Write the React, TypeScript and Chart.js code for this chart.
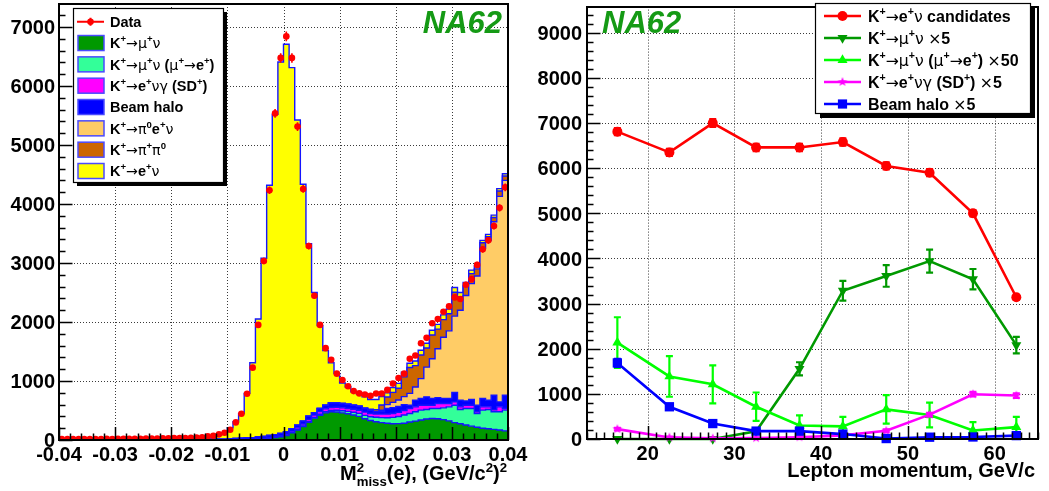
import React, { useEffect, useRef } from 'react';
import { Chart, registerables } from 'chart.js';

Chart.register(...registerables);

// ================= LEFT PANEL: M2miss(e) histogram =================
const BIN_LOW = -0.04;
const BIN_WIDTH = 0.001;
const N_BINS = 80;

const dataCounts = [
  14, 16, 15, 17, 16, 18, 17, 16, 19, 18,
  20, 19, 21, 20, 22, 23, 25, 26, 28, 29,
  31, 33, 35, 37, 40, 45, 62, 73, 96, 124,
  174, 298, 445, 785, 1226, 1951, 3035, 4233, 5536, 6476,
  6841, 6476, 5312, 4255, 3288, 2445, 1951, 1557, 1361, 1125,
  1018, 911, 829, 790, 770, 748, 787, 787, 849, 956,
  1051, 1125, 1377, 1433, 1641, 1731, 1978, 2052, 2175, 2265,
  2417, 2389, 2631, 2726, 2968, 3232, 3384, 3626, 3935, 4283,
];

const kMuNu = [
  0, 0, 0, 0, 0, 0, 0, 0, 0, 0,
  0, 0, 0, 0, 0, 0, 0, 0, 0, 0,
  0, 0, 0, 0, 0, 0, 0, 0, 0, 0,
  2, 3, 4, 6, 8, 12, 20, 30, 40, 55,
  75, 120, 170, 230, 300, 370, 420, 460, 478, 475,
  460, 445, 425, 400, 360, 330, 310, 295, 283, 275,
  278, 285, 305, 320, 340, 355, 365, 360, 345, 325,
  295, 275, 255, 235, 215, 200, 190, 180, 170, 155,
];

const kMuNuMuToE = [
  0, 0, 0, 0, 0, 0, 0, 0, 0, 0,
  0, 0, 0, 0, 0, 0, 0, 0, 0, 0,
  0, 0, 0, 0, 0, 0, 0, 0, 0, 0,
  0, 0, 0, 0, 0, 2, 2, 3, 3, 4,
  5, 6, 8, 10, 12, 14, 16, 18, 22, 28,
  35, 40, 45, 52, 58, 65, 75, 85, 95, 108,
  120, 140, 145, 158, 166, 162, 169, 174, 200, 237,
  295, 242, 279, 299, 235, 306, 327, 300, 308, 351,
];

const kE2GammaSD = [
  0, 0, 0, 0, 0, 0, 0, 0, 0, 0,
  0, 0, 0, 0, 0, 0, 0, 0, 0, 0,
  0, 0, 0, 0, 0, 0, 0, 0, 0, 0,
  2, 3, 4, 5, 6, 8, 10, 12, 13, 15,
  20, 24, 28, 30, 35, 38, 45, 50, 52, 52,
  50, 48, 50, 52, 55, 55, 55, 58, 62, 65,
  70, 75, 84, 84, 84, 73, 56, 84, 73, 56,
  56, 45, 56, 56, 28, 56, 45, 30, 84, 28,
];

const beamHalo = [
  6, 6, 6, 6, 6, 6, 6, 6, 6, 6,
  7, 7, 7, 7, 7, 7, 7, 7, 7, 7,
  9, 9, 9, 9, 9, 10, 11, 12, 14, 15,
  17, 19, 21, 24, 27, 28, 30, 32, 34, 36,
  38, 42, 46, 50, 55, 39, 53, 62, 77, 74,
  74, 74, 70, 69, 61, 56, 40, 45, 94, 100,
  100, 100, 56, 113, 113, 141, 113, 101, 85, 85,
  158, 113, 73, 96, 112, 141, 113, 249, 84, 225,
];

const kPi0ENu = [
  0, 0, 0, 0, 0, 0, 0, 0, 0, 0,
  0, 0, 0, 0, 0, 0, 0, 0, 0, 0,
  0, 0, 0, 0, 0, 0, 0, 0, 0, 0,
  0, 0, 0, 0, 0, 0, 0, 0, 0, 0,
  0, 0, 0, 0, 0, 0, 0, 0, 0, 0,
  0, 0, 0, 0, 0, 0, 5, 20, 66, 90,
  110, 135, 200, 224, 337, 505, 674, 827, 1039, 1147,
  1296, 1525, 1787, 1964, 2190, 2547, 2705, 2941, 3484, 3641,
];

const kPiPi0 = [
  0, 0, 0, 0, 0, 0, 0, 0, 0, 0,
  0, 0, 0, 0, 0, 0, 0, 0, 0, 0,
  0, 0, 0, 0, 0, 0, 0, 0, 0, 0,
  0, 0, 0, 0, 0, 0, 0, 0, 0, 0,
  0, 0, 0, 0, 0, 0, 0, 0, 0, 0,
  0, 0, 0, 0, 10, 15, 30, 90, 130, 170,
  200, 335, 440, 361, 400, 324, 403, 334, 298, 290,
  405, 230, 160, 170, 120, 94, 65, 71, 91, 74,
];

const kE2 = [
  8, 10, 9, 11, 10, 12, 11, 10, 13, 12,
  13, 12, 14, 13, 15, 16, 18, 19, 21, 22,
  22, 24, 26, 28, 31, 35, 44, 56, 74, 110,
  187, 284, 421, 755, 1269, 2002, 3019, 4240, 5430, 6298,
  6569, 6120, 5173, 4014, 2925, 2040, 1405, 928, 681, 496,
  347, 292, 225, 203, 187, 165, 171, 142, 70, 82,
  82, 80, 70, 80, 80, 80, 80, 80, 80, 80,
  80, 70, 60, 60, 50, 40, 40, 40, 40, 40,
];

const leftXTicks = [-0.04, -0.03, -0.02, -0.01, 0, 0.01, 0.02, 0.03, 0.04];
const leftXTickLabels = ['-0.04', '-0.03', '-0.02', '-0.01', '0', '0.01', '0.02', '0.03', '0.04'];
const leftYTicks = [0, 1000, 2000, 3000, 4000, 5000, 6000, 7000];
const leftYTickLabels = ['0', '1000', '2000', '3000', '4000', '5000', '6000', '7000'];

const leftComponentLabels = [
  'K^{+}→μ^{+}ν',
  'K^{+}→μ^{+}ν (μ^{+}→e^{+})',
  'K^{+}→e^{+}νγ (SD^{+})',
  'Beam halo',
  'K^{+}→π^{0}e^{+}ν',
  'K^{+}→π^{+}π^{0}',
  'K^{+}→e^{+}ν',
];
const leftComponentColors = ['#009900', '#33ff99', '#ff00ff', '#0000ff', '#ffcc66', '#cc6600', '#ffff00'];
const leftComponentValues = [kMuNu, kMuNuMuToE, kE2GammaSD, beamHalo, kPi0ENu, kPiPi0, kE2];

// ================= RIGHT PANEL: vs lepton momentum =================
const momentum = [16.5, 22.5, 27.5, 32.5, 37.5, 42.5, 47.5, 52.5, 57.5, 62.5];
const candidates = [6810, 6350, 7000, 6460, 6460, 6580, 6050, 5900, 5000, 3140];
const candidatesErr = [80, 80, 85, 80, 80, 80, 78, 77, 70, 56];
const muNuX5 = [0, 0, 0, 170, 1555, 3285, 3613, 3941, 3540, 2080];
const muNuX5Err = [10, 10, 10, 40, 145, 220, 240, 255, 226, 182];
const muNuMuEX50 = [2137, 1386, 1211, 715, 298, 280, 657, 532, 190, 263];
const muNuMuEX50Err = [560, 450, 420, 315, 225, 210, 315, 275, 185, 225];
const sdX5 = [219, 35, 15, 20, 40, 80, 182, 540, 992, 963];
const sdX5Err = [30, 10, 10, 10, 10, 20, 30, 40, 50, 50];
const haloX5 = [1686, 714, 342, 175, 175, 109, 10, 40, 45, 75];
const haloX5Err = [90, 60, 40, 30, 30, 25, 10, 15, 15, 20];

const rightXTicks = [20, 30, 40, 50, 60];
const rightXTickLabels = ['20', '30', '40', '50', '60'];
const rightYTicks = [0, 1000, 2000, 3000, 4000, 5000, 6000, 7000, 8000, 9000];
const rightYTickLabels = ['0', '1000', '2000', '3000', '4000', '5000', '6000', '7000', '8000', '9000'];

const rightSeriesLabels = [
  'K^{+}→e^{+}ν candidates',
  'K^{+}→μ^{+}ν ×5',
  'K^{+}→μ^{+}ν (μ^{+}→e^{+}) ×50',
  'K^{+}→e^{+}νγ (SD^{+}) ×5',
  'Beam halo ×5',
];
const rightSeriesColors = ['#ff0000', '#009900', '#00ff00', '#ff00ff', '#0000ff'];
const rightSeriesValues = [candidates, muNuX5, muNuMuEX50, sdX5, haloX5];
const rightSeriesErrors = [candidatesErr, muNuX5Err, muNuMuEX50Err, sdX5Err, haloX5Err];
const rightSeriesMarkers = ['circle', 'triangleDown', 'triangle', 'star', 'rect'];

// ================= helpers =================
const FONT = '"Liberation Sans", Arial, Helvetica, sans-serif';
const SYM_FONT = '"DejaVu Sans", sans-serif';
const SYMBOLS = '→×μνγπ';
const NA62_GREEN = '#159a15';
const LEFT_W = 560;
const RIGHT_LEFT = 524;
const RIGHT_W = 525;
const H = 491;

type Tok = { t: string; kind: string; sym?: boolean };
function parseRich(s: string): Tok[] {
  const raw: Tok[] = [];
  let i = 0;
  let buf = '';
  while (i < s.length) {
    const c = s[i];
    if ((c === '^' || c === '_') && s[i + 1] === '{') {
      if (buf) { raw.push({ t: buf, kind: 'n' }); buf = ''; }
      const end = s.indexOf('}', i + 2);
      raw.push({ t: s.slice(i + 2, end), kind: c === '^' ? 'sup' : 'sub' });
      i = end + 1;
    } else {
      buf += c;
      i++;
    }
  }
  if (buf) raw.push({ t: buf, kind: 'n' });
  // split normal runs into symbol / text runs
  const out: Tok[] = [];
  for (const tk of raw) {
    if (tk.kind !== 'n') { out.push(tk); continue; }
    let cur = '';
    let curSym = false;
    for (const ch of tk.t) {
      const isSym = SYMBOLS.indexOf(ch) >= 0;
      if (cur && isSym !== curSym) { out.push({ t: cur, kind: 'n', sym: curSym }); cur = ''; }
      cur += ch;
      curSym = isSym;
    }
    if (cur) out.push({ t: cur, kind: 'n', sym: curSym });
  }
  return out;
}

function drawRich(ctx: CanvasRenderingContext2D, s: string, x: number, y: number, size: number, align: string, color: string) {
  const toks = parseRich(s);
  const small = size * 0.66;
  const fontOf = (tk: Tok) => {
    if (tk.kind !== 'n') return `bold ${small}px ${FONT}`;
    if (tk.sym) return `${size * 0.98}px ${SYM_FONT}`;
    return `bold ${size}px ${FONT}`;
  };
  const pieces: any[] = [];
  let cx = 0;
  let prevKind = 'n';
  let scriptStart = 0;
  let scriptW = 0;
  for (const tk of toks) {
    ctx.font = fontOf(tk);
    const w = ctx.measureText(tk.t).width;
    if (tk.kind !== 'n' && prevKind !== 'n' && prevKind !== tk.kind) {
      pieces.push({ ...tk, x: scriptStart });
      scriptW = Math.max(scriptW, w);
      cx = scriptStart + scriptW;
    } else {
      if (tk.kind !== 'n') { scriptStart = cx; scriptW = w; }
      pieces.push({ ...tk, x: cx });
      cx += w;
    }
    prevKind = tk.kind;
  }
  const x0 = align === 'right' ? x - cx : align === 'center' ? x - cx / 2 : x;
  ctx.save();
  ctx.fillStyle = color;
  ctx.textBaseline = 'alphabetic';
  ctx.textAlign = 'left';
  for (const p of pieces) {
    ctx.font = fontOf(p);
    const dy = p.kind === 'sup' ? -size * 0.4 : p.kind === 'sub' ? size * 0.3 : 0;
    ctx.fillText(p.t, x0 + p.x, y + dy);
  }
  ctx.restore();
}

function drawText(ctx: CanvasRenderingContext2D, s: string, x: number, y: number, size: number, align: CanvasTextAlign, color = '#000', style = 'bold') {
  ctx.save();
  ctx.font = `${style} ${size}px ${FONT}`;
  ctx.fillStyle = color;
  ctx.textAlign = align;
  ctx.textBaseline = 'alphabetic';
  ctx.fillText(s, x, y);
  ctx.restore();
}

function dottedGrid(ctx: CanvasRenderingContext2D, area: any, xs: number[], ys: number[]) {
  ctx.save();
  ctx.strokeStyle = '#3a3a3a';
  ctx.lineWidth = 1;
  ctx.setLineDash([1, 2]);
  for (const px of xs) {
    const p = Math.round(px) + 0.5;
    if (p <= area.left + 2 || p >= area.right - 2) continue;
    ctx.beginPath(); ctx.moveTo(p, area.top); ctx.lineTo(p, area.bottom); ctx.stroke();
  }
  for (const py of ys) {
    const p = Math.round(py) + 0.5;
    if (p <= area.top + 2 || p >= area.bottom - 2) continue;
    ctx.beginPath(); ctx.moveTo(area.left, p); ctx.lineTo(area.right, p); ctx.stroke();
  }
  ctx.restore();
}

function drawFrame(ctx: CanvasRenderingContext2D, area: any) {
  ctx.save();
  ctx.strokeStyle = '#000';
  ctx.lineWidth = 2;
  ctx.strokeRect(Math.round(area.left), Math.round(area.top), Math.round(area.right - area.left), Math.round(area.bottom - area.top));
  ctx.restore();
}

function drawTicks(ctx: CanvasRenderingContext2D, area: any, xTicks: any[], yTicks: any[]) {
  ctx.save();
  ctx.strokeStyle = '#000';
  ctx.lineWidth = 1.5;
  ctx.beginPath();
  for (const t of xTicks) {
    const p = Math.round(t.px) + 0.5;
    if (p < area.left - 0.5 || p > area.right + 0.5) continue;
    ctx.moveTo(p, area.bottom); ctx.lineTo(p, area.bottom - t.len);
  }
  for (const t of yTicks) {
    const p = Math.round(t.px) + 0.5;
    if (p < area.top - 0.5 || p > area.bottom + 0.5) continue;
    ctx.moveTo(area.left, p); ctx.lineTo(area.left + t.len, p);
  }
  ctx.stroke();
  ctx.restore();
}

function legendBox(ctx: CanvasRenderingContext2D, x: number, y: number, w: number, h: number, sh: number) {
  ctx.save();
  ctx.fillStyle = '#000';
  ctx.fillRect(x + sh, y + sh, w, h);
  ctx.fillStyle = '#fff';
  ctx.fillRect(x, y, w, h);
  ctx.strokeStyle = '#000';
  ctx.lineWidth = 1.2;
  ctx.strokeRect(x + 0.5, y + 0.5, w, h);
  ctx.restore();
}

function makeStar(color: string, r: number) {
  const c = document.createElement('canvas');
  const s = Math.ceil(r * 2) + 2;
  c.width = s; c.height = s;
  const g = c.getContext('2d')!;
  g.fillStyle = color;
  g.beginPath();
  for (let i = 0; i < 10; i++) {
    const rad = i % 2 === 0 ? r : r * 0.42;
    const a = -Math.PI / 2 + (i * Math.PI) / 5;
    const px = s / 2 + rad * Math.cos(a);
    const py = s / 2 + rad * Math.sin(a);
    if (i === 0) g.moveTo(px, py); else g.lineTo(px, py);
  }
  g.closePath();
  g.fill();
  return c;
}

function drawMarker(ctx: CanvasRenderingContext2D, kind: string, x: number, y: number, color: string, star: HTMLCanvasElement) {
  ctx.save();
  ctx.fillStyle = color;
  ctx.beginPath();
  if (kind === 'circle') {
    ctx.arc(x, y, 5, 0, Math.PI * 2);
    ctx.fill();
  } else if (kind === 'triangle' || kind === 'triangleDown') {
    const r = 5.8;
    const s = kind === 'triangle' ? 1 : -1;
    ctx.moveTo(x, y - s * r);
    ctx.lineTo(x + r * 0.866, y + s * r * 0.5);
    ctx.lineTo(x - r * 0.866, y + s * r * 0.5);
    ctx.closePath();
    ctx.fill();
  } else if (kind === 'rect') {
    ctx.fillRect(x - 4.6, y - 4.6, 9.2, 9.2);
  } else if (kind === 'star') {
    ctx.drawImage(star, x - star.width / 2, y - star.height / 2);
  }
  ctx.restore();
}

// ================= chart builders =================
function buildLeft(canvas: HTMLCanvasElement) {
  const edges = Array.from({ length: N_BINS + 1 }, (_, i) => BIN_LOW + i * BIN_WIDTH);
  const stepData = (arr: number[]) => edges.map((x, i) => ({ x, y: arr[Math.min(i, N_BINS - 1)] }));
  const outline = '#1414ff';

  const datasets: any[] = leftComponentValues.map((vals, k) => ({
    type: 'line',
    label: leftComponentLabels[k],
    data: stepData(vals),
    stepped: 'before',
    borderColor: outline,
    borderWidth: 1.4,
    backgroundColor: leftComponentColors[k],
    fill: k === 0 ? 'origin' : '-1',
    pointRadius: 0,
    stack: 'mc',
    order: 1,
  }));
  const dataIndex = datasets.length;
  datasets.push({
    type: 'line',
    label: 'Data',
    data: dataCounts.map((y, i) => ({ x: BIN_LOW + (i + 0.5) * BIN_WIDTH, y })),
    showLine: false,
    fill: false,
    pointRadius: 3.3,
    pointBackgroundColor: '#ff0000',
    pointBorderColor: '#ff0000',
    pointBorderWidth: 0,
    stack: 'data',
    order: 0,
  });

  const decor = {
    id: 'leftDecor',
    beforeDatasetsDraw(chart: any) {
      const { ctx, chartArea, scales } = chart;
      dottedGrid(ctx, chartArea, leftXTicks.map((v) => scales.x.getPixelForValue(v)), leftYTicks.map((v) => scales.y.getPixelForValue(v)));
    },
    beforeDatasetDraw(chart: any, args: any) {
      if (args.index !== dataIndex) return;
      const { ctx, scales } = chart;
      ctx.save();
      ctx.strokeStyle = '#ff0000';
      ctx.lineWidth = 1.6;
      ctx.beginPath();
      dataCounts.forEach((v, i) => {
        const xc = BIN_LOW + (i + 0.5) * BIN_WIDTH;
        const px = scales.x.getPixelForValue(xc);
        const err = Math.sqrt(v);
        ctx.moveTo(px, scales.y.getPixelForValue(v - err));
        ctx.lineTo(px, scales.y.getPixelForValue(v + err));
        const py = scales.y.getPixelForValue(v);
        ctx.moveTo(scales.x.getPixelForValue(xc - BIN_WIDTH / 2), py);
        ctx.lineTo(scales.x.getPixelForValue(xc + BIN_WIDTH / 2), py);
      });
      ctx.stroke();
      ctx.restore();
    },
    afterDraw(chart: any) {
      const { ctx, chartArea: a, scales } = chart;
      const xt: any[] = [];
      for (let k = -20; k <= 20; k++) xt.push({ px: scales.x.getPixelForValue(k * 0.002), len: k % 5 === 0 ? 13 : 6.5 });
      const yt: any[] = [];
      for (let k = 0; k <= 36; k++) yt.push({ px: scales.y.getPixelForValue(k * 200), len: k % 5 === 0 ? 13.5 : 6.5 });
      drawTicks(ctx, a, xt, yt);
      drawFrame(ctx, a);
      leftXTicks.forEach((v, i) => drawText(ctx, leftXTickLabels[i], scales.x.getPixelForValue(v), 461, 20, 'center'));
      leftYTicks.forEach((v, i) => drawText(ctx, leftYTickLabels[i], 55, scales.y.getPixelForValue(v) + 7.2, 20, 'right'));
      drawRich(ctx, 'M^{2}_{miss}(e), (GeV/c^{2})^{2}', 507, 480, 20, 'right', '#000');
      drawText(ctx, 'NA62', 502, 33, 31, 'right', NA62_GREEN, 'italic bold');
      // legend
      legendBox(ctx, 73, 8, 150, 174, 4);
      const rowY = (k: number) => 21.7 + k * 21.33;
      ctx.save();
      ctx.strokeStyle = '#ff0000';
      ctx.lineWidth = 2;
      ctx.beginPath();
      ctx.moveTo(77, rowY(0)); ctx.lineTo(104, rowY(0));
      ctx.moveTo(90.5, rowY(0) - 4); ctx.lineTo(90.5, rowY(0) + 4);
      ctx.stroke();
      ctx.fillStyle = '#ff0000';
      ctx.beginPath(); ctx.arc(90.5, rowY(0), 3.3, 0, Math.PI * 2); ctx.fill();
      ctx.restore();
      drawRich(ctx, 'Data', 110, rowY(0) + 5.2, 14.5, 'left', '#000');
      leftComponentLabels.forEach((lab, k) => {
        const yy = rowY(k + 1);
        ctx.save();
        ctx.fillStyle = leftComponentColors[k];
        ctx.fillRect(78, yy - 7.5, 26, 15);
        ctx.strokeStyle = '#4a4aff';
        ctx.lineWidth = 1.5;
        ctx.strokeRect(78, yy - 7.5, 26, 15);
        ctx.restore();
        drawRich(ctx, lab, 110, yy + 5.2, 14.5, 'left', '#000');
      });
    },
  };

  return new Chart(canvas, {
    type: 'line',
    data: { datasets },
    options: {
      responsive: false,
      animation: false,
      events: [],
      layout: { padding: { left: 0, top: 2, right: LEFT_W - 508, bottom: 0 } },
      plugins: { legend: { display: false }, tooltip: { enabled: false } },
      scales: {
        x: {
          type: 'linear', min: -0.04, max: 0.04,
          grid: { display: false }, border: { display: false },
          ticks: { display: false, stepSize: 0.01 },
          afterFit: (s: any) => { s.height = H - 440; },
        },
        y: {
          type: 'linear', stacked: true, min: 0, max: 7390,
          grid: { display: false }, border: { display: false },
          ticks: { display: false, stepSize: 1000 },
          afterFit: (s: any) => { s.width = 59; },
        },
      },
    } as any,
    plugins: [decor],
  } as any);
}

function buildRight(canvas: HTMLCanvasElement) {
  const star = makeStar('#ff00ff', 5);
  const markerStyle = (m: string) => (m === 'star' ? star : m === 'triangleDown' ? 'triangle' : m);
  const datasets: any[] = rightSeriesValues.map((vals, k) => {
    const m = rightSeriesMarkers[k];
    return {
      type: 'line',
      label: rightSeriesLabels[k],
      data: momentum.map((x, i) => ({ x, y: vals[i] })),
      borderColor: rightSeriesColors[k],
      backgroundColor: rightSeriesColors[k],
      borderWidth: 2.6,
      fill: false,
      pointStyle: markerStyle(m),
      pointRotation: m === 'triangleDown' ? 180 : 0,
      pointRadius: m === 'circle' ? 5 : m === 'rect' ? 6.6 : 5.8,
      pointBackgroundColor: rightSeriesColors[k],
      pointBorderColor: rightSeriesColors[k],
      pointBorderWidth: 0,
      order: 5 - k,
      clip: false,
    };
  });

  const decor = {
    id: 'rightDecor',
    beforeDatasetsDraw(chart: any) {
      const { ctx, chartArea, scales } = chart;
      dottedGrid(ctx, chartArea, rightXTicks.map((v) => scales.x.getPixelForValue(v)), rightYTicks.map((v) => scales.y.getPixelForValue(v)));
    },
    beforeDatasetDraw(chart: any, args: any) {
      const k = args.index;
      const { ctx, scales } = chart;
      const errs = rightSeriesErrors[k];
      const vals = rightSeriesValues[k];
      ctx.save();
      ctx.strokeStyle = rightSeriesColors[k];
      ctx.lineWidth = 2.2;
      ctx.beginPath();
      momentum.forEach((x, i) => {
        const px = scales.x.getPixelForValue(x);
        const y1 = scales.y.getPixelForValue(Math.max(0, vals[i] - errs[i]));
        const y2 = scales.y.getPixelForValue(vals[i] + errs[i]);
        ctx.moveTo(px, y1); ctx.lineTo(px, y2);
        ctx.moveTo(px - 3.5, y1); ctx.lineTo(px + 3.5, y1);
        ctx.moveTo(px - 3.5, y2); ctx.lineTo(px + 3.5, y2);
      });
      ctx.stroke();
      ctx.restore();
    },
    afterDraw(chart: any) {
      const { ctx, chartArea: a, scales } = chart;
      const xt: any[] = [];
      for (let k = 13; k <= 65; k++) xt.push({ px: scales.x.getPixelForValue(k), len: k % 10 === 0 ? 13 : 6.5 });
      const yt: any[] = [];
      for (let k = 0; k <= 47; k++) yt.push({ px: scales.y.getPixelForValue(k * 200), len: k % 5 === 0 ? 13.5 : 6.5 });
      drawTicks(ctx, a, xt, yt);
      drawFrame(ctx, a);
      rightXTicks.forEach((v, i) => drawText(ctx, rightXTickLabels[i], scales.x.getPixelForValue(v), 460, 20, 'center'));
      rightYTicks.forEach((v, i) => drawText(ctx, rightYTickLabels[i], 58, scales.y.getPixelForValue(v) + 7.2, 20, 'right'));
      drawText(ctx, 'Lepton momentum, GeV/c', 511, 477, 20, 'right');
      drawText(ctx, 'NA62', 78, 33, 31, 'left', NA62_GREEN, 'italic bold');
      legendBox(ctx, 291, 3, 215, 110, 5);
      rightSeriesLabels.forEach((lab, k) => {
        const yy = 16 + k * 22;
        ctx.save();
        ctx.strokeStyle = rightSeriesColors[k];
        ctx.lineWidth = 2.6;
        ctx.beginPath(); ctx.moveTo(300, yy); ctx.lineTo(337, yy); ctx.stroke();
        ctx.restore();
        drawMarker(ctx, rightSeriesMarkers[k], 318.5, yy, rightSeriesColors[k], star);
        drawRich(ctx, lab, 344, yy + 5.8, 16, 'left', '#000');
      });
    },
  };

  return new Chart(canvas, {
    type: 'line',
    data: { datasets },
    options: {
      responsive: false,
      animation: false,
      events: [],
      layout: { padding: { left: 0, top: 2, right: 11, bottom: 0 } },
      plugins: { legend: { display: false }, tooltip: { enabled: false } },
      scales: {
        x: {
          type: 'linear', min: 13, max: 65,
          grid: { display: false }, border: { display: false },
          ticks: { display: false, stepSize: 10 },
          afterFit: (s: any) => { s.height = H - 439; },
        },
        y: {
          type: 'linear', min: 0, max: 9580,
          grid: { display: false }, border: { display: false },
          ticks: { display: false, stepSize: 1000 },
          afterFit: (s: any) => { s.width = 63; },
        },
      },
    } as any,
    plugins: [decor],
  } as any);
}

export default function App() {
  const leftRef = useRef<HTMLCanvasElement>(null);
  const rightRef = useRef<HTMLCanvasElement>(null);
  useEffect(() => {
    const l = buildLeft(leftRef.current!);
    const r = buildRight(rightRef.current!);
    return () => { l.destroy(); r.destroy(); };
  }, []);
  return (
    <div style={{ position: 'absolute', left: 0, top: 0, width: 1049, height: H, background: '#fff', overflow: 'hidden' }}>
      <canvas ref={leftRef} width={LEFT_W} height={H} style={{ position: 'absolute', left: 0, top: 0 }} />
      <canvas ref={rightRef} width={RIGHT_W} height={H} style={{ position: 'absolute', left: RIGHT_LEFT, top: 0 }} />
    </div>
  );
}
